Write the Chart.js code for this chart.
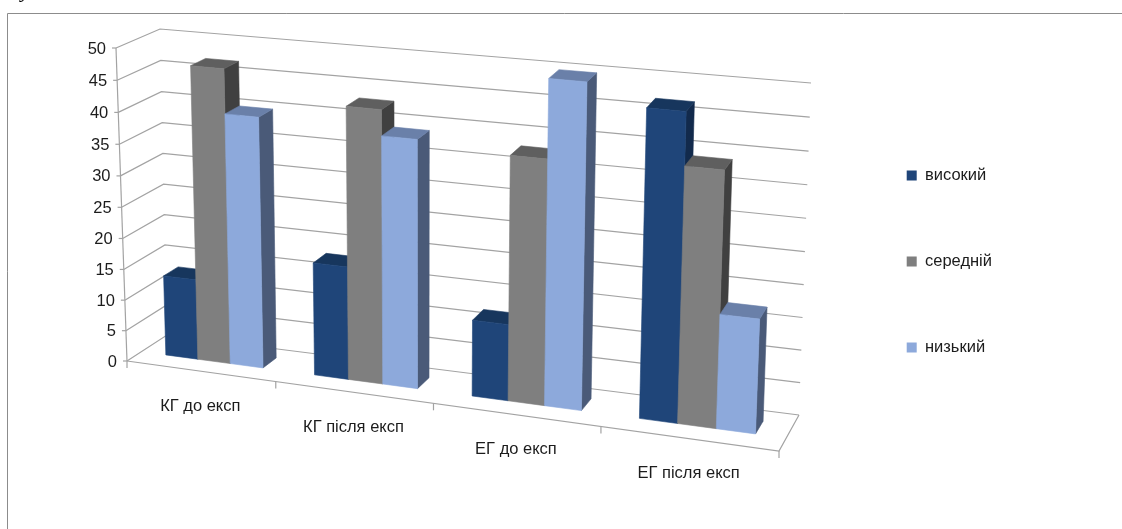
<!DOCTYPE html>
<html>
<head>
<meta charset="utf-8">
<style>
  html, body { margin: 0; padding: 0; background: #fff; }
  #wrap { width: 1122px; height: 529px; }
</style>
</head>
<body>
<div id="wrap"><canvas id="chart" width="1122" height="529"></canvas></div>
<script src="https://cdn.jsdelivr.net/npm/chart.js@4"></script>
<script>
const categories = ['КГ до експ', 'КГ після експ', 'ЕГ до експ', 'ЕГ після експ'];
const seriesNames = ['високий', 'середній', 'низький'];
const highValues = [13, 18, 12, 47];
const middleValues = [47, 43, 38, 39];
const lowValues = [40, 39, 50, 17.5];
const frontColors = ['#1f4579', '#7f7f7f', '#8da9db'];
const topColors = ['#17365d', '#5f5f5f', '#6a80a9'];
const sideColors = ['#122a4c', '#404040', '#4a5a78'];

const FONT = '"Liberation Sans", sans-serif';
const GRID = '#a3a3a3';

// Corners of the box: left-bottom, right-bottom, right-top, left-top
const frontQuad = [[127, 361], [779, 451], [793, 111], [116, 48]];
const backQuad = [[167, 335], [799, 415], [811, 83], [160, 29]];
// Where the bars stand between the front (0) and back (1) of the floor
const barFront = 0.36;
const barBack = 0.72;
// Extra foreshortening along the category axis
const warp = 0.03;

function homography(q) {
    const [[x0, y0], [x1, y1], [x2, y2], [x3, y3]] = q;
    const dx1 = x1 - x2, dx2 = x3 - x2, sx = x0 - x1 + x2 - x3;
    const dy1 = y1 - y2, dy2 = y3 - y2, sy = y0 - y1 + y2 - y3;
    const den = dx1 * dy2 - dx2 * dy1;
    const g = (sx * dy2 - dx2 * sy) / den;
    const h = (dx1 * sy - sx * dy1) / den;
    const a = x1 - x0 + g * x1, b = x3 - x0 + h * x3;
    const d = y1 - y0 + g * y1, e = y3 - y0 + h * y3;
    return (u, v) => {
        const w = g * u + h * v + 1;
        return [(a * u + b * v + x0) / w, (d * u + e * v + y0) / w];
    };
}
const frontMap = homography(frontQuad);
const backMap = homography(backQuad);

function project(u, v, depth) {
    const uw = u * (1 - warp * (1 - u));
    const f = frontMap(uw, v), b = backMap(uw, v);
    return [f[0] + (b[0] - f[0]) * depth, f[1] + (b[1] - f[1]) * depth];
}

function strokeLine(ctx, points) {
    ctx.beginPath();
    points.forEach((p, i) => i ? ctx.lineTo(p[0], p[1]) : ctx.moveTo(p[0], p[1]));
    ctx.stroke();
}

function fillFace(ctx, points, color) {
    ctx.fillStyle = color;
    ctx.strokeStyle = color;
    ctx.lineWidth = 0.6;
    ctx.beginPath();
    points.forEach((p, i) => i ? ctx.lineTo(p[0], p[1]) : ctx.moveTo(p[0], p[1]));
    ctx.closePath();
    ctx.fill();
    ctx.stroke();
}

const box3d = {
    id: 'box3d',
    beforeDatasetsDraw(chart) {
        const ctx = chart.ctx;
        const area = chart.chartArea;
        const toU = px => (px - area.left) / (area.right - area.left);
        const toV = py => (area.bottom - py) / (area.bottom - area.top);
        const yScale = chart.scales.y;
        const xScale = chart.scales.x;

        ctx.save();

        // frame of the pasted picture and the clipped letter above it
        ctx.strokeStyle = '#8c8c8c';
        ctx.lineWidth = 1;
        strokeLine(ctx, [[7.5, 529], [7.5, 13.5], [1122, 13.5]]);
        ctx.fillStyle = '#000';
        ctx.font = 'italic 22px "Liberation Serif", serif';
        ctx.textAlign = 'left';
        ctx.textBaseline = 'alphabetic';
        ctx.fillText('у', 21, -3);

        // walls
        ctx.strokeStyle = GRID;
        ctx.lineWidth = 1.2;
        yScale.ticks.forEach(t => {
            const v = toV(yScale.getPixelForValue(t.value));
            strokeLine(ctx, [project(0, v, 0), project(0, v, 1), project(1, v, 1)]);
        });
        strokeLine(ctx, [project(0, 1, 0), project(0, 0, 0)]);
        strokeLine(ctx, [project(0, 0, 0), project(1, 0, 0), project(1, 0, 1)]);

        // tick marks and labels
        ctx.fillStyle = '#1c1c1c';
        ctx.font = '16.5px ' + FONT;
        ctx.textBaseline = 'middle';
        ctx.textAlign = 'right';
        yScale.ticks.forEach(t => {
            const p = project(0, toV(yScale.getPixelForValue(t.value)), 0);
            strokeLine(ctx, [[p[0] - 4, p[1]], p]);
            ctx.fillText(t.label, p[0] - 10, p[1] + 1);
        });
        ctx.textAlign = 'center';
        xScale.ticks.forEach((t, i) => {
            const half = (xScale.getPixelForTick(1) - xScale.getPixelForTick(0)) / 2;
            const edge = project(toU(xScale.getPixelForTick(i) + half), 0, 0);
            strokeLine(ctx, [edge, [edge[0], edge[1] + 7]]);
            const mid = project(toU(xScale.getPixelForTick(i)), 0, 0);
            ctx.fillText(categories[i], mid[0], mid[1] + 35);
        });
        const start = project(0, 0, 0);
        strokeLine(ctx, [start, [start[0], start[1] + 7]]);

        // bars, drawn from the elements Chart.js laid out
        categories.forEach((c, col) => {
            chart.data.datasets.forEach((ds, s) => {
                const el = chart.getDatasetMeta(s).data[col];
                const u0 = toU(el.x - el.width / 2), u1 = toU(el.x + el.width / 2);
                const v0 = toV(el.base), v1 = toV(el.y);
                fillFace(ctx, [project(u1, v0, barFront), project(u1, v0, barBack),
                    project(u1, v1, barBack), project(u1, v1, barFront)], sideColors[s]);
                fillFace(ctx, [project(u0, v1, barFront), project(u1, v1, barFront),
                    project(u1, v1, barBack), project(u0, v1, barBack)], topColors[s]);
                fillFace(ctx, [project(u0, v0, barFront), project(u1, v0, barFront),
                    project(u1, v1, barFront), project(u0, v1, barFront)], frontColors[s]);
            });
        });

        ctx.restore();
        return false;
    }
};

new Chart(document.getElementById('chart'), {
    type: 'bar',
    data: {
        labels: categories,
        datasets: [
            { label: seriesNames[0], data: highValues, backgroundColor: frontColors[0] },
            { label: seriesNames[1], data: middleValues, backgroundColor: frontColors[1] },
            { label: seriesNames[2], data: lowValues, backgroundColor: frontColors[2] }
        ]
    },
    options: {
        responsive: false,
        animation: false,
        datasets: { bar: { categoryPercentage: 0.66, barPercentage: 1 } },
        layout: { padding: { top: 0, bottom: 6, right: 120 } },
        scales: {
            x: { display: false },
            y: { display: false, min: 0, max: 50, ticks: { stepSize: 5 } }
        },
        plugins: {
            tooltip: { enabled: false },
            legend: {
                position: 'right',
                labels: {
                    boxWidth: 10,
                    boxHeight: 10,
                    padding: 69.5,
                    color: '#1c1c1c',
                    font: { family: FONT, size: 16.5 }
                }
            }
        }
    },
    plugins: [box3d]
});
</script>
</body>
</html>
